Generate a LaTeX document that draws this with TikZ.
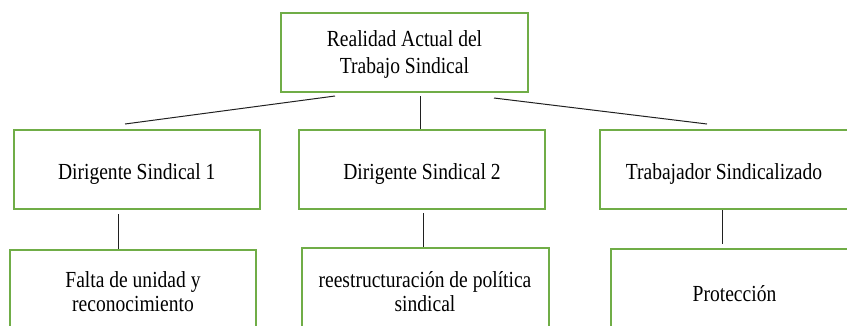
\documentclass[tikz,border=0pt]{standalone}
\usepackage{fontspec}
\setmainfont[FakeStretch=0.85]{Liberation Serif}
\definecolor{boxgreen}{HTML}{70AD47}
\definecolor{linegray}{HTML}{202020}
\newcommand{\st}[1]{\rule{0pt}{#1pt}}
\begin{document}
\begin{tikzpicture}[x=1pt,y=1pt,
  gbox/.style={draw=boxgreen,line width=2pt,fill=white,align=center,inner sep=0pt,
    font=\fontsize{23}{26.3}\selectfont},
  lowbox/.style={gbox,font=\fontsize{23}{24}\selectfont},
  conn/.style={draw=linegray,line width=1pt}]
\useasboundingbox (0,0) rectangle (847,-325);
\clip (0,0) rectangle (847,-325);
% top
\node[gbox,minimum width=247,minimum height=79] (top) at (404.5,-52.2) {\st{20.3}Realidad Actual del\\Trabajo Sindical};
% row 2
\node[gbox,minimum width=246.5,minimum height=79.3] (d1) at (136.75,-169.5) {\st{24}Dirigente Sindical 1};
\node[gbox,minimum width=246,minimum height=79.3] (d2) at (422,-169.5) {\st{24}Dirigente Sindical 2};
\node[gbox,minimum width=248,minimum height=79.3] (ts) at (724,-169.5) {\st{24}Trabajador Sindicalizado};
% row 3
\node[lowbox,minimum width=246,minimum height=84] (f1) at (133,-291.5) {\st{17}Falta de unidad y\\reconocimiento};
\node[lowbox,minimum width=247,minimum height=86] (f2) at (425,-291.3) {\st{17}reestructuración de política\\sindical};
\node[lowbox,minimum width=248,minimum height=84] (f3) at (734.5,-291.3) {\st{21}Protección};
% connector end points
\coordinate (tl) at (335,-96);
\coordinate (tle) at (125,-124);
\coordinate (tm) at (420,-96);
\coordinate (tr) at (494,-98);
\coordinate (tre) at (707,-124);
\coordinate (a1) at (118,-214);
\coordinate (a2) at (423,-213);
\coordinate (a3) at (722.5,-210);
\coordinate (a3e) at (722.5,-244);
\draw[conn] (tl) -- (tle);
\draw[conn] (tm) -- (tm |- d2.north);
\draw[conn] (tr) -- (tre);
\draw[conn] (a1) -- (a1 |- f1.north);
\draw[conn] (a2) -- (a2 |- f2.north);
\draw[conn] (a3) -- (a3e);
\end{tikzpicture}
\end{document}
